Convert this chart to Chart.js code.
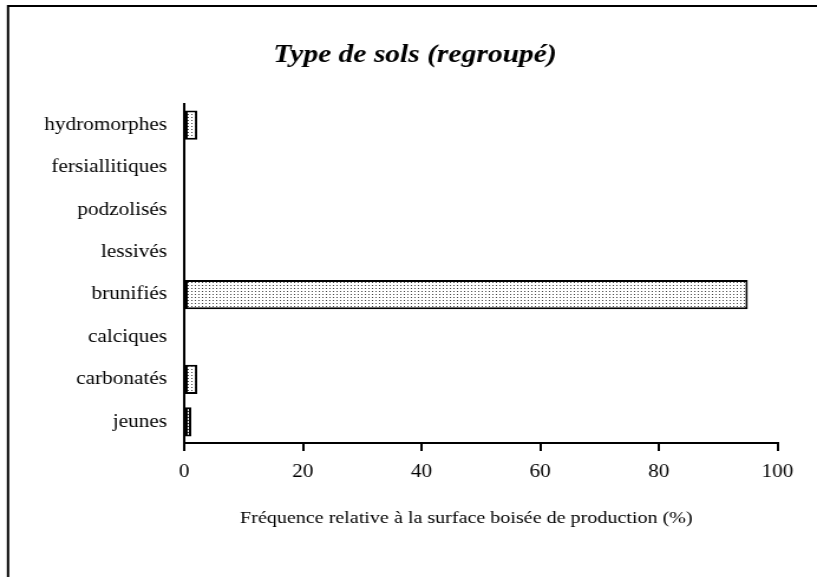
<!DOCTYPE html>
<html>
<head>
<meta charset="utf-8">
<script src="https://cdn.jsdelivr.net/npm/chart.js@4/dist/chart.umd.min.js"></script>
<style>
  html, body { margin: 0; padding: 0; background: #fff; overflow: hidden; }
  #wrap { width: 817px; height: 577px; position: relative; overflow: hidden; }
  /* the original picture is stretched sideways, so draw narrow and widen */
  #solsChart { transform-origin: 0 0; transform: scaleX(1.1806); }
</style>
</head>
<body>
<div id="wrap"><canvas id="solsChart" width="692" height="577"></canvas></div>
<script>
// categories top to bottom, as in the picture
const categories = ['hydromorphes', 'fersiallitiques', 'podzolisés', 'lessivés', 'brunifiés', 'calciques', 'carbonatés', 'jeunes'];
const frequence = [2.2, 0, 0, 0, 95, 0, 2.2, 1.2];
const xTicks = [0, 20, 40, 60, 80, 100];
const chartTitle = 'Type de sols (regroupé)';
const xTitle = 'Fréquence relative à la surface boisée de production (%)';

const SERIF = '"Liberation Serif", "Times New Roman", serif';

// dotted grey fill like the old excel pattern
function dotPattern() {
  const c = document.createElement('canvas');
  c.width = 3; c.height = 3;
  const g = c.getContext('2d');
  g.fillStyle = '#ffffff';
  g.fillRect(0, 0, 3, 3);
  g.fillStyle = '#444444';
  g.fillRect(0, 0, 1, 1);
  return g.createPattern(c, 'repeat');
}

const decor = {
  id: 'decor',
  afterDraw(chart) {
    const ctx = chart.ctx;
    ctx.save();
    // frame, cut off on right and bottom
    ctx.strokeStyle = '#000';
    ctx.lineWidth = 2;
    ctx.beginPath();
    ctx.moveTo(6.8, 577);
    ctx.lineTo(6.8, 6);
    ctx.lineTo(692, 6);
    ctx.stroke();
    // titles
    ctx.fillStyle = '#000';
    ctx.textAlign = 'center';
    ctx.textBaseline = 'middle';
    ctx.font = 'italic bold 25px ' + SERIF;
    ctx.fillText(chartTitle, 351.5, 56);
    ctx.font = '17px ' + SERIF;
    ctx.fillText(xTitle, 395, 519);
    ctx.restore();
  }
};

const ctx = document.getElementById('solsChart').getContext('2d');
new Chart(ctx, {
  type: 'bar',
  data: {
    labels: categories,
    datasets: [{
      data: frequence,
      backgroundColor: dotPattern(),
      borderColor: '#000',
      borderWidth: 2,
      borderSkipped: false,
      categoryPercentage: 1,
      barPercentage: 0.69
    }]
  },
  options: {
    indexAxis: 'y',
    responsive: false,
    animation: false,
    layout: { padding: { left: 0, right: 33.5, top: 104, bottom: 84 } },
    plugins: { legend: { display: false }, title: { display: false }, tooltip: { enabled: false } },
    scales: {
      x: {
        min: 0, max: 100,
        afterBuildTicks(s) { s.ticks = xTicks.map(v => ({ value: v })); },
        afterFit(s) { s.height = 50; },
        grid: { drawOnChartArea: false, color: '#000', lineWidth: 2, tickLength: 8 },
        border: { color: '#000', width: 2 },
        ticks: { color: '#000', padding: 10, font: { family: SERIF, size: 18 } }
      },
      y: {
        afterFit(s) { s.width = 156; },
        grid: { display: false, drawTicks: false },
        border: { color: '#000', width: 2 },
        ticks: { color: '#000', padding: 14.5, font: { family: SERIF, size: 18 } }
      }
    }
  },
  plugins: [decor]
});
</script>
</body>
</html>
